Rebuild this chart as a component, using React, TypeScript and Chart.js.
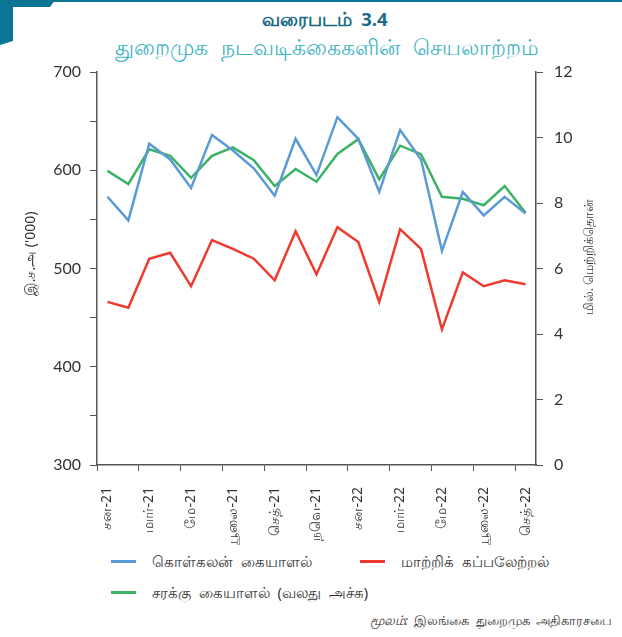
import React, { useEffect, useRef } from "react";
import { Chart, registerables } from "chart.js";

Chart.register(...registerables);

const months = [
  "சன-21", "பெப்-21", "மார்-21", "ஏப்-21", "மே-21", "யூன்-21", "யூலை-21", "ஓக-21",
  "செத்-21", "ஒக்-21", "நவெ-21", "டிச-21", "சன-22", "பெப்-22", "மார்-22", "ஏப்-22",
  "மே-22", "யூன்-22", "யூலை-22", "ஓக-22", "செத்-22",
];

const containerHandling = [573, 549, 627, 611, 582, 636, 620, 602, 574, 632, 595, 654, 632, 578, 641, 611, 518, 578, 554, 573, 556];
const transshipment = [466, 460, 510, 516, 482, 529, 520, 510, 488, 538, 494, 542, 527, 466, 540, 520, 438, 496, 482, 488, 484];
const cargoHandling = [8.98, 8.58, 9.64, 9.44, 8.77, 9.44, 9.70, 9.31, 8.52, 9.04, 8.65, 9.50, 9.95, 8.72, 9.75, 9.49, 8.19, 8.13, 7.93, 8.52, 7.70];

const seriesNames = ["கொள்கலன் கையாளல்", "மாற்றிக் கப்பலேற்றல்", "சரக்கு கையாளல் (வலது அச்சு)"];
const colors = ["#5b9bd5", "#ee3a2f", "#3bb264"];

const leftTitle = "இ.ச.அ ('000)";
const rightTitle = "மில். மெற்றிக்தொன்";
const titleText = "வரைபடம் 3.4";
const subtitleText = "துறைமுக நடவடிக்கைகளின் செயலாற்றம்";

const FONT = "'Noto Sans', 'DejaVu Sans', sans-serif";
const AXIS = "#555555";

const axisTitles = {
  id: "axisTitles",
  afterDraw(chart: any) {
    const ctx = chart.ctx;
    ctx.save();
    ctx.fillStyle = "#333";
    ctx.font = "14px " + FONT;
    ctx.textAlign = "center";
    ctx.textBaseline = "middle";
    ctx.translate(31, 254);
    ctx.rotate(-Math.PI / 2);
    ctx.fillText(leftTitle, 0, 0);
    ctx.restore();
    ctx.save();
    ctx.fillStyle = "#333";
    ctx.font = "12.5px " + FONT;
    ctx.textAlign = "center";
    ctx.textBaseline = "middle";
    ctx.translate(589, 257);
    ctx.rotate(-Math.PI / 2);
    ctx.fillText(rightTitle, 0, 0);
    ctx.restore();
  },
};

export default function App() {
  const ref = useRef<HTMLCanvasElement | null>(null);
  useEffect(() => {
    if (!ref.current) return;
    const chart = new Chart(ref.current, {
      type: "line",
      data: {
        labels: months,
        datasets: [
          { label: seriesNames[0], data: containerHandling, borderColor: colors[0], backgroundColor: colors[0], yAxisID: "y", borderWidth: 2.5, pointRadius: 0, tension: 0 },
          { label: seriesNames[1], data: transshipment, borderColor: colors[1], backgroundColor: colors[1], yAxisID: "y", borderWidth: 2.5, pointRadius: 0, tension: 0 },
          { label: seriesNames[2], data: cargoHandling, borderColor: colors[2], backgroundColor: colors[2], yAxisID: "y1", borderWidth: 2.5, pointRadius: 0, tension: 0 },
        ],
      },
      options: {
        animation: false,
        responsive: false,
        maintainAspectRatio: false,
        layout: { padding: { top: 72, left: 0, right: 0, bottom: 0 } },
        plugins: { legend: { display: false }, tooltip: { enabled: false }, title: { display: false } },
        scales: {
          x: {
            type: "category",
            offset: true,
            afterFit(scale: any) { scale.height = 80; },
            grid: {
              offset: true,
              drawOnChartArea: false,
              drawTicks: true,
              tickLength: 6,
              tickColor: (c: any) => (c.index % 2 === 0 ? AXIS : "rgba(0,0,0,0)"),
              color: "rgba(0,0,0,0)",
            },
            border: { display: true, color: AXIS, width: 1.5 },
            ticks: {
              autoSkip: false,
              maxRotation: 90,
              minRotation: 90,
              padding: 16,
              color: "#333",
              font: { family: FONT, size: 14 },
              callback: (_v: any, i: number) => (i % 2 === 0 ? months[i] : ""),
            },
          },
          y: {
            position: "left",
            min: 300,
            max: 700,
            afterFit(scale: any) { scale.width = 97; },
            grid: { drawOnChartArea: false, drawTicks: true, tickLength: 7, tickColor: AXIS },
            border: { display: true, color: AXIS, width: 1.5 },
            ticks: {
              stepSize: 50,
              padding: 9,
              color: "#333",
              font: { family: "Lato, " + FONT, size: 16 },
              callback: (v: any) => (Number(v) % 100 === 0 ? String(v) : ""),
            },
          },
          y1: {
            position: "right",
            min: 0,
            max: 12,
            afterFit(scale: any) { scale.width = 86; },
            grid: { drawOnChartArea: false, drawTicks: true, tickLength: 7, tickColor: AXIS },
            border: { display: true, color: AXIS, width: 1.5 },
            ticks: {
              stepSize: 2,
              padding: 11,
              color: "#333",
              font: { family: "Lato, " + FONT, size: 16 },
            },
          },
        },
      },
      plugins: [axisTitles],
    });
    return () => chart.destroy();
  }, []);

  const legendItem = (i: number, left: number, top: number) => (
    <div key={i} style={{ position: "absolute", left, top, display: "flex", alignItems: "center", height: 20 }}>
      <div style={{ width: 25, height: 3, background: colors[i] }} />
      <span style={{ marginLeft: 16, fontSize: 14.5, wordSpacing: 4, color: "#333", fontFamily: FONT, whiteSpace: "nowrap" }}>{seriesNames[i]}</span>
    </div>
  );

  return (
    <div style={{ position: "absolute", left: 0, top: 0, width: 622, height: 637, background: "#fff", overflow: "hidden" }}>
      <svg width={622} height={50} style={{ position: "absolute", left: 0, top: 0 }}>
        <rect x={0} y={0} width={622} height={2} fill="#0a7595" />
        <polygon points="0,0 55,0 50,7 13,7 13,41 0,45" fill="#0a7595" />
      </svg>
      <div style={{ position: "absolute", left: 0, width: 650, top: 6, textAlign: "center", fontFamily: FONT, fontWeight: 700, fontSize: 18.5, wordSpacing: 4, color: "#1b6a86" }}>{titleText}</div>
      <div style={{ position: "absolute", left: 0, width: 654, top: 31, textAlign: "center", fontFamily: FONT, fontSize: 22, wordSpacing: 7, color: "#45b5c4" }}>{subtitleText}</div>
      <canvas ref={ref} width={622} height={545} style={{ position: "absolute", left: 0, top: 0, width: 622, height: 545 }} />
      {legendItem(0, 111, 551)}
      {legendItem(1, 360, 551)}
      {legendItem(2, 111, 582)}
      <div style={{ position: "absolute", right: 10, top: 611, fontSize: 13, wordSpacing: 3, color: "#333", fontFamily: FONT, whiteSpace: "nowrap" }}>
        <i>மூலம்:</i> இலங்கை துறைமுக அதிகாரசபை
      </div>
    </div>
  );
}
